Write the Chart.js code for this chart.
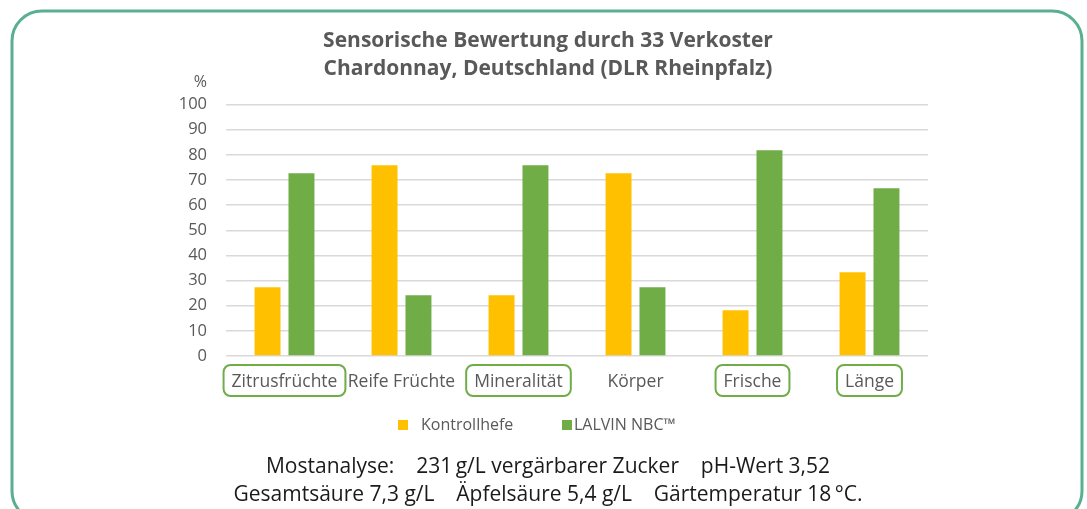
<!DOCTYPE html>
<html>
<head>
<meta charset="utf-8">
<script src="https://cdn.jsdelivr.net/npm/chart.js@4/dist/chart.umd.min.js"></script>
<style>
  html, body { margin: 0; padding: 0; background: #fff; }
  #wrap { width: 1087px; height: 509px; position: relative; }
</style>
</head>
<body>
<div id="wrap"><canvas id="chart"></canvas></div>
<script>
// Data (33 tasters, share in %)
const categories = ['Zitrusfrüchte', 'Reife Früchte', 'Mineralität', 'Körper', 'Frische', 'Länge'];
const kontrollhefe = [27.3, 75.8, 24.2, 72.7, 18.2, 33.3];
const lalvinNbc = [72.7, 24.2, 75.8, 27.3, 81.8, 66.7];
const seriesNames = ['Kontrollhefe', 'LALVIN NBC™'];
const boxedCategories = ['Zitrusfrüchte', 'Mineralität', 'Frische', 'Länge'];
const yTicks = [0, 10, 20, 30, 40, 50, 60, 70, 80, 90, 100];
const titleLines = ['Sensorische Bewertung durch 33 Verkoster', 'Chardonnay, Deutschland (DLR Rheinpfalz)'];
const footLines = [
  'Mostanalyse:    231\u2009g/L vergärbarer Zucker    pH-Wert 3,52',
  'Gesamtsäure 7,3 g/L    Äpfelsäure 5,4 g/L    Gärtemperatur 18\u2009°C.'
];

const YELLOW = '#FFC000';
const GREEN = '#70AD47';
const GREY = '#595959';
const FONT = "'Open Sans', 'Noto Sans', sans-serif";

// frame, % label, boxed categories, legend and footnote
const decorations = {
  id: 'decorations',
  beforeDraw(chart) {
    const ctx = chart.ctx;
    ctx.save();
    ctx.strokeStyle = '#5BAF91';
    ctx.lineWidth = 3;
    ctx.beginPath();
    ctx.roundRect(12, 11, 1070, 510, 30);
    ctx.stroke();
    ctx.restore();
  },
  afterDraw(chart) {
    const ctx = chart.ctx;
    const x = chart.scales.x;
    const y = chart.scales.y;
    ctx.save();

    // unit label
    ctx.font = '16px ' + FONT;
    ctx.fillStyle = GREY;
    ctx.textAlign = 'right';
    ctx.textBaseline = 'middle';
    ctx.fillText('%', y.right - 19, chart.chartArea.top - 22);

    // rounded boxes around some category labels
    ctx.font = '17.5px ' + FONT;
    ctx.strokeStyle = GREEN;
    ctx.lineWidth = 2;
    categories.forEach((c, i) => {
      if (!boxedCategories.includes(c)) return;
      const cx = x.getPixelForValue(i);
      const w = ctx.measureText(c).width;
      ctx.beginPath();
      ctx.roundRect(cx - w / 2 - 8, 365, w + 16, 31, 7);
      ctx.stroke();
    });

    // legend
    ctx.font = '16px ' + FONT;
    ctx.textAlign = 'left';
    ctx.textBaseline = 'middle';
    const legendX = [398, 562];
    const textGap = [13, 2];
    chart.data.datasets.forEach((ds, i) => {
      ctx.fillStyle = ds.backgroundColor;
      ctx.fillRect(legendX[i], 420, 10, 10);
      ctx.fillStyle = GREY;
      ctx.fillText(ds.label, legendX[i] + 10 + textGap[i], 425);
    });

    // must analysis
    ctx.font = '21px ' + FONT;
    ctx.fillStyle = '#1a1a1a';
    ctx.textAlign = 'center';
    ctx.fillText(footLines[0], 548, 467);
    ctx.fillText(footLines[1], 548, 495);
    ctx.restore();
  }
};

new Chart(document.getElementById('chart'), {
  type: 'bar',
  data: {
    labels: categories,
    datasets: [
      { label: seriesNames[0], data: kontrollhefe, backgroundColor: YELLOW },
      { label: seriesNames[1], data: lalvinNbc, backgroundColor: GREEN }
    ]
  },
  options: {
    responsive: true,
    maintainAspectRatio: false,
    animation: false,
    categoryPercentage: 0.58,
    barPercentage: 0.765,
    layout: { padding: { left: 168, right: 159, top: 0, bottom: 103 } },
    plugins: {
      legend: { display: false },
      tooltip: { enabled: false },
      title: {
        display: true,
        text: titleLines,
        color: GREY,
        font: { family: FONT, size: 21, weight: 'bold', lineHeight: 28 / 21 },
        padding: { top: 27, bottom: 21.5 }
      }
    },
    scales: {
      y: {
        min: 0, max: 100,
        afterFit: s => { s.width = 58; },
        afterBuildTicks: s => { s.ticks = yTicks.map(v => ({ value: v })); },
        border: { display: false },
        grid: { color: '#D9D9D9', lineWidth: 1.5, drawTicks: false },
        ticks: { color: GREY, padding: 19, font: { family: FONT, size: 16.5 } }
      },
      x: {
        afterFit: s => { s.height = 50; },
        border: { display: false },
        grid: { display: false, drawTicks: false },
        ticks: { color: GREY, padding: 16, maxRotation: 0, autoSkip: false, font: { family: FONT, size: 17.5 } }
      }
    }
  },
  plugins: [decorations]
});
</script>
</body>
</html>
